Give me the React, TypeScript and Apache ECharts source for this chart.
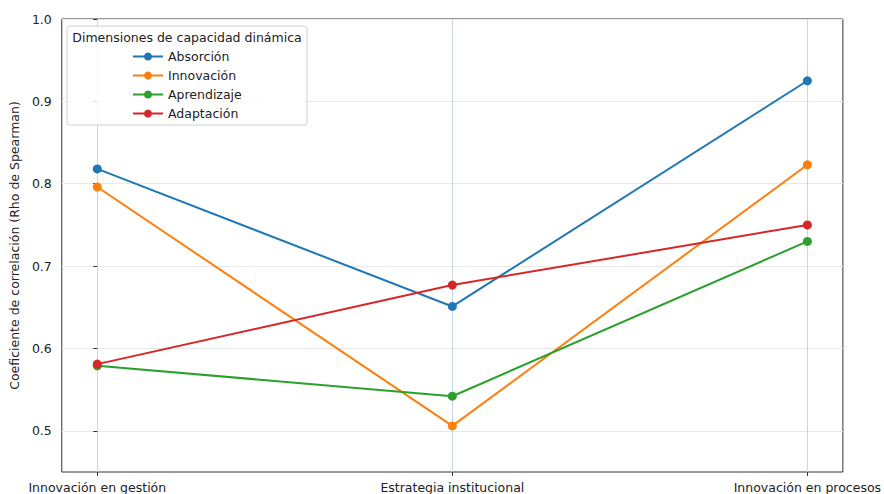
import React, { useEffect, useRef } from "react";
import * as echarts from "echarts";

const categories = ["Innovación en gestión", "Estrategia institucional", "Innovación en procesos"];
const absorcion = [0.818, 0.651, 0.925];
const innovacion = [0.796, 0.506, 0.823];
const aprendizaje = [0.579, 0.542, 0.73];
const adaptacion = [0.581, 0.677, 0.75];
const yTicks = [0.5, 0.6, 0.7, 0.8, 0.9, 1.0];
const seriesNames = ["Absorción", "Innovación", "Aprendizaje", "Adaptación"];
const colors = ["#1f77b4", "#ff7f0e", "#2ca02c", "#d62728"];
const legendTitle = "Dimensiones de capacidad dinámica";
const yName = "Coeficiente de correlación (Rho de Spearman)";

const FONT = "DejaVu Sans";

export default function App() {
  const ref = useRef<HTMLDivElement>(null);
  useEffect(() => {
    if (!ref.current) return;
    const chart = echarts.init(ref.current, undefined, { renderer: "svg" });
    const allValues = [absorcion, innovacion, aprendizaje, adaptacion];
    chart.setOption({
      animation: false,
      backgroundColor: "#ffffff",
      textStyle: { fontFamily: FONT },
      grid: {
        left: 60,
        top: 19,
        width: 785,
        height: 454,
        show: true,
        borderColor: "#333333",
        borderWidth: 1,
        backgroundColor: "transparent",
      },
      xAxis: {
        type: "value",
        min: -0.1,
        max: 2.1,
        axisLine: { show: false },
        axisTick: {
          show: true,
          customValues: [0, 1, 2],
          length: 4,
          lineStyle: { color: "#333333" },
        },
        axisLabel: {
          customValues: [0, 1, 2],
          formatter: (v: number) => categories[Math.round(v)] ?? "",
          fontFamily: FONT,
          fontSize: 12.5,
          color: "#222222",
          margin: 9,
        },
        splitLine: { show: true, lineStyle: { color: "#c4d8ea", width: 1 } },
      },
      yAxis: {
        type: "value",
        min: 0.45,
        max: 1.0,
        name: yName,
        nameLocation: "middle",
        nameGap: 33,
        nameTextStyle: { fontFamily: FONT, fontSize: 12.5, color: "#222222" },
        axisLine: { show: false },
        axisTick: {
          show: true,
          customValues: yTicks,
          length: 4,
          lineStyle: { color: "#333333" },
        },
        axisLabel: {
          customValues: yTicks,
          formatter: (v: number) => v.toFixed(1),
          fontFamily: FONT,
          fontSize: 12.5,
          color: "#222222",
          margin: 10,
        },
        splitLine: { show: true, lineStyle: { color: "#e8e8e8", width: 1 } },
      },
      legend: {
        orient: "vertical",
        left: 127,
        top: 42,
        itemWidth: 30,
        itemHeight: 10,
        itemGap: 0,
        data: seriesNames,
        textStyle: {
          fontFamily: FONT,
          fontSize: 12.5,
          color: "#222222",
          lineHeight: 19,
          padding: [0, 0, 0, 0],
        },
        z: 5,
      },
      graphic: [
        {
          type: "rect",
          z: 4,
          shape: { x: 67, y: 26, width: 240, height: 99, r: 3 },
          style: { fill: "rgba(255,255,255,0.85)", stroke: "#d0d0d0", lineWidth: 1 },
        },
        {
          type: "text",
          z: 5,
          x: 187,
          y: 37,
          style: {
            text: legendTitle,
            fontFamily: FONT,
            fontSize: 12.5,
            fill: "#222222",
            align: "center",
            verticalAlign: "middle",
          },
        },
      ],
      series: seriesNames.map((name, i) => ({
        name,
        type: "line",
        data: allValues[i].map((v, j) => [j, v]),
        symbol: "circle",
        symbolSize: 9,
        lineStyle: { width: 2, color: colors[i] },
        itemStyle: { color: colors[i] },
        z: 2 + i * 0.01,
      })),
    });
    return () => chart.dispose();
  }, []);
  return (
    <div
      ref={ref}
      style={{ position: "fixed", left: 0, top: 0, width: 884, height: 494 }}
    />
  );
}
